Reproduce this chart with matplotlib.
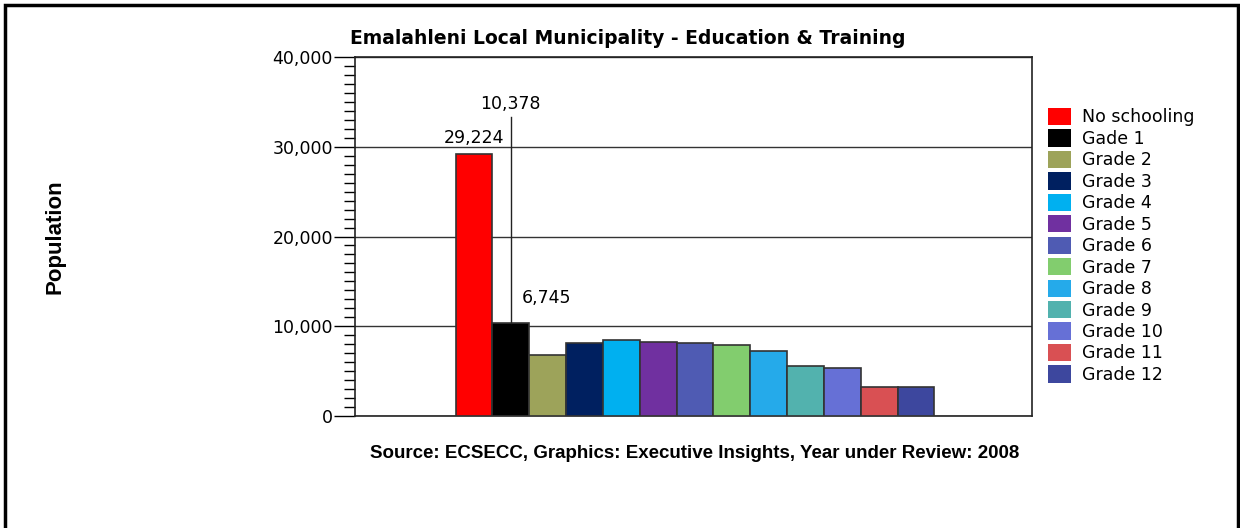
import matplotlib.pyplot as plt
from matplotlib.patches import Patch, Rectangle
from matplotlib.ticker import FuncFormatter, MultipleLocator

categories = ["No schooling", "Gade 1", "Grade 2", "Grade 3", "Grade 4", "Grade 5",
              "Grade 6", "Grade 7", "Grade 8", "Grade 9", "Grade 10", "Grade 11", "Grade 12"]
values = [29224, 10378, 6745, 8170, 8470, 8250, 8100, 7880, 7240, 5600, 5310, 3230, 3230]
colors = ["#ff0000", "#000000", "#9da35a", "#002060", "#00b0f0", "#7030a0",
          "#4f5bb3", "#82cd6e", "#25aaea", "#52b2ae", "#6670d6", "#d95053", "#3d479e"]
# which bars get a value label
labelled = {0: "29,224", 1: "10,378", 2: "6,745"}

fig = plt.figure(figsize=(12.4, 5.28), dpi=100)
ax = fig.add_axes([355 / 1240, 1 - 416 / 528, 677 / 1240, 359 / 528])

x = list(range(len(values)))
ax.bar(x, values, width=1.0, color=colors, edgecolor="#333333", linewidth=1.2, zorder=3)

ax.set_xlim(-3.23, 15.15)
ax.set_ylim(0, 40000)
ax.set_xticks([])
ax.yaxis.set_major_locator(MultipleLocator(10000))
ax.yaxis.set_minor_locator(MultipleLocator(1000))
ax.yaxis.set_major_formatter(FuncFormatter(lambda v, p: "{:,.0f}".format(v)))
ax.tick_params(axis="y", which="major", length=15, width=1, labelsize=12.5, pad=1)
ax.tick_params(axis="y", which="minor", length=8, width=1)
ax.grid(axis="y", which="major", color="#333333", linewidth=1, zorder=1)
for s in ax.spines.values():
    s.set_color("#222222")
    s.set_linewidth(1.2)

# value labels
ax.text(0, 30975, labelled[0], ha="center", va="center", fontsize=12.5)
ax.text(1, 34760, labelled[1], ha="center", va="center", fontsize=12.5)
ax.plot([1, 1], [values[1], 33300], color="#222222", linewidth=1, zorder=4)
ax.text(1.3, 13150, labelled[2], ha="left", va="center", fontsize=12.5)

# legend
handles = [Patch(facecolor=c, edgecolor="none") for c in colors]
fig.legend(handles, categories, loc="upper left", bbox_to_anchor=(1048 / 1240, 1 - 108 / 528),
           frameon=False, fontsize=12.5, handlelength=1.3, handleheight=1.15,
           labelspacing=0.17, handletextpad=0.68, borderaxespad=0, borderpad=0)

fig.text(628 / 1240, 1 - 38 / 528, "Emalahleni Local Municipality - Education & Training",
         ha="center", va="center", fontsize=13.5, fontweight="bold")
fig.text(55 / 1240, 1 - 237 / 528, "Population", rotation=90, ha="center", va="center",
         fontsize=16, family="Liberation Sans", fontweight="bold")
fig.text(695 / 1240, 1 - 453 / 528,
         "Source: ECSECC, Graphics: Executive Insights, Year under Review: 2008",
         ha="center", va="center", fontsize=13.5, family="Liberation Sans", fontweight="bold")

# outer frame
fig.patches.append(Rectangle((5 / 1240, -0.05), 1233 / 1240, 1 - 5 / 528 + 0.05,
                             transform=fig.transFigure, fill=False, edgecolor="black",
                             linewidth=2.5))

fig.savefig("out.png", dpi=100)
